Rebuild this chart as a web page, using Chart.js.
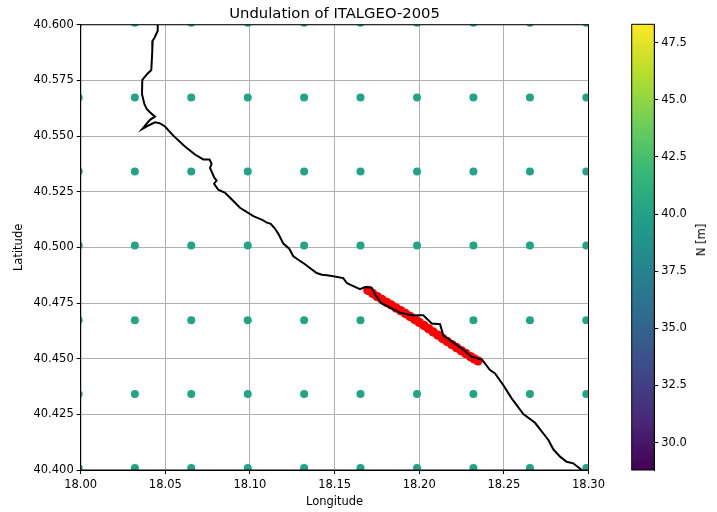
<!DOCTYPE html>
<html>
<head>
<meta charset="utf-8">
<title>Undulation of ITALGEO-2005</title>
<script src="https://cdn.jsdelivr.net/npm/chart.js@4"></script>
<style>
  html, body { margin: 0; padding: 0; background: #fff; }
  #wrap { position: relative; width: 717px; height: 512px; overflow: hidden; font-family: "DejaVu Sans", sans-serif; }
  canvas { position: absolute; top: 0; }
  #chart-main { left: 0; }
  #chart-bar { left: 600px; }
  #bar-label { position: absolute; left: 701px; top: 240px; font-size: 11.5px; color: #000; white-space: nowrap; transform: translate(-50%, -50%) rotate(-90deg); }
</style>
</head>
<body>
<div id="wrap">
  <canvas id="chart-main" width="717" height="512"></canvas>
  <canvas id="chart-bar" width="117" height="512"></canvas>
  <div id="bar-label">N [m]</div>
</div>
<script>
const gridLon = [17.9988, 18.032, 18.0653, 18.0987, 18.132, 18.1653, 18.1987, 18.232, 18.2654, 18.2987];
const gridLat = [40.6009, 40.5673, 40.5341, 40.5009, 40.4673, 40.4341, 40.4009];

const coastLon = [18.0455, 18.0455, 18.0437, 18.0425, 18.0423, 18.0417, 18.0393, 18.0364, 18.0362, 18.0376, 18.039, 18.0409, 18.0439, 18.0409, 18.0364, 18.0399, 18.0439, 18.0469, 18.0498, 18.0547, 18.0616, 18.0675, 18.0724, 18.0761, 18.0773, 18.0764, 18.0788, 18.0803, 18.0788, 18.0813, 18.0853, 18.0902, 18.0941, 18.102, 18.1072, 18.1097, 18.1123, 18.1146, 18.1167, 18.1197, 18.1232, 18.1256, 18.1325, 18.1394, 18.1425, 18.1455, 18.1492, 18.1551, 18.1572, 18.1591, 18.165, 18.168, 18.1719, 18.1745, 18.1778, 18.1886, 18.1956, 18.2024, 18.2074, 18.2123, 18.2142, 18.226, 18.231, 18.2371, 18.2418, 18.2448, 18.2497, 18.2546, 18.2615, 18.2684, 18.2763, 18.2792, 18.2832, 18.2871, 18.291, 18.296];
const coastLat = [40.5999, 40.5973, 40.5943, 40.5928, 40.5883, 40.5797, 40.5779, 40.5752, 40.5689, 40.5644, 40.5622, 40.5607, 40.5587, 40.5573, 40.5532, 40.5547, 40.5562, 40.5557, 40.5543, 40.5502, 40.5453, 40.5417, 40.5395, 40.5395, 40.5375, 40.5357, 40.5315, 40.53, 40.5286, 40.5259, 40.5245, 40.5208, 40.5178, 40.514, 40.5124, 40.5112, 40.5106, 40.5086, 40.5062, 40.5017, 40.4994, 40.496, 40.4924, 40.4885, 40.4877, 40.4875, 40.487, 40.4862, 40.484, 40.4833, 40.4812, 40.4822, 40.4819, 40.4782, 40.4748, 40.4707, 40.4695, 40.4695, 40.4658, 40.4655, 40.4605, 40.4541, 40.4508, 40.4496, 40.4449, 40.4434, 40.4381, 40.4322, 40.4251, 40.4212, 40.4135, 40.4093, 40.406, 40.4037, 40.403, 40.4];

const trackLon = [18.1697, 18.1725, 18.1752, 18.178, 18.1808, 18.1835, 18.1863, 18.189, 18.1918, 18.1945, 18.1973, 18.2, 18.2028, 18.2055, 18.2083, 18.211, 18.2138, 18.2165, 18.2193, 18.222, 18.2248, 18.2275, 18.2303, 18.2325, 18.2347];
const trackLat = [40.4807, 40.4793, 40.4779, 40.4766, 40.4753, 40.4741, 40.4728, 40.4716, 40.4703, 40.469, 40.4676, 40.4663, 40.4649, 40.4635, 40.462, 40.4606, 40.4591, 40.4577, 40.4563, 40.455, 40.4536, 40.4523, 40.4509, 40.4499, 40.449];

const nMin = 28.8;
const nMax = 48.3;
const viridis = ["#440154", "#482878", "#3e4989", "#31688e", "#26828e", "#1f9e89", "#35b779", "#6ece58", "#b5de2b", "#fde725"];

const FONT = '"DejaVu Sans", sans-serif';
Chart.defaults.font.family = FONT;
Chart.defaults.color = "#000";

// matplotlib style box round the axes
const framePlugin = {
  id: "frame",
  afterDraw(chart) {
    const a = chart.chartArea, c = chart.ctx;
    c.save();
    c.strokeStyle = "#000";
    c.lineWidth = 1;
    c.strokeRect(a.left, a.top, a.right - a.left, a.bottom - a.top);
    c.restore();
  },
};

const gridPts = [];
gridLat.forEach((y) => gridLon.forEach((x) => gridPts.push({ x, y })));

new Chart(document.getElementById("chart-main"), {
  type: "scatter",
  data: {
    datasets: [
      { label: "Coast", data: coastLon.map((x, i) => ({ x, y: coastLat[i] })), showLine: true, borderColor: "#000", borderWidth: 2, pointRadius: 0, tension: 0 },
      { label: "Track", data: trackLon.map((x, i) => ({ x, y: trackLat[i] })), backgroundColor: "#ff0000", borderWidth: 0, pointRadius: 4.7 },
      { label: "Grid", data: gridPts, backgroundColor: "#21a585", borderWidth: 0, pointRadius: 4 },
    ],
  },
  options: {
    responsive: false,
    animation: false,
    devicePixelRatio: 1,
    layout: { padding: { top: 0, right: 128.5, left: 0, bottom: 0 } },
    plugins: {
      legend: { display: false },
      tooltip: { enabled: false },
      title: { display: true, text: "Undulation of ITALGEO-2005", fullSize: false, color: "#000", font: { size: 14.8, weight: "normal" }, padding: { top: 5, bottom: 2 } },
    },
    scales: {
      x: {
        type: "linear", min: 18, max: 18.3,
        ticks: { stepSize: 0.05, color: "#000", font: { size: 11.5 }, padding: 4, maxRotation: 0, callback: (v) => v.toFixed(2) },
        grid: { color: "#b0b0b0", lineWidth: 1, tickColor: "#000", tickLength: 4 },
        border: { color: "#000" },
        title: { display: true, text: "Longitude", color: "#000", font: { size: 11.5 }, padding: { top: 2, bottom: 3 } },
        afterFit(s) { s.height = 42; },
      },
      y: {
        type: "linear", min: 40.4, max: 40.6,
        ticks: { stepSize: 0.025, color: "#000", font: { size: 11.5 }, padding: 3, callback: (v) => v.toFixed(3) },
        grid: { color: "#b0b0b0", lineWidth: 1, tickColor: "#000", tickLength: 4 },
        border: { color: "#000" },
        title: { display: true, text: "Latitude", color: "#000", font: { size: 11.5 }, padding: { top: 12, bottom: 3 } },
        afterFit(s) { s.width = 80.7; },
      },
    },
  },
  plugins: [framePlugin],
});

function barFill(ctx) {
  const a = ctx.chart.chartArea;
  if (!a) return viridis[0];
  const g = ctx.chart.ctx.createLinearGradient(0, a.bottom, 0, a.top);
  viridis.forEach((c, i) => g.addColorStop(i / (viridis.length - 1), c));
  return g;
}

new Chart(document.getElementById("chart-bar"), {
  type: "bar",
  data: {
    labels: ["N"],
    datasets: [{ data: [[nMin, nMax]], backgroundColor: barFill, borderWidth: 0, barPercentage: 1, categoryPercentage: 1 }],
  },
  options: {
    responsive: false,
    animation: false,
    devicePixelRatio: 1,
    layout: { padding: { top: 24.3, left: 31.7, right: 0, bottom: 42 } },
    plugins: { legend: { display: false }, tooltip: { enabled: false } },
    scales: {
      x: { display: false },
      y: {
        position: "right", min: nMin, max: nMax,
        afterBuildTicks(s) { s.ticks = [30, 32.5, 35, 37.5, 40, 42.5, 45, 47.5].map((value) => ({ value })); },
        ticks: { color: "#000", font: { size: 11.5 }, padding: 3, callback: (v) => v.toFixed(1) },
        grid: { drawOnChartArea: false, tickColor: "#000", tickLength: 4 },
        border: { color: "#000" },
        afterFit(s) { s.width = 62.7; },
      },
    },
  },
  plugins: [framePlugin],
});
</script>
</body>
</html>
